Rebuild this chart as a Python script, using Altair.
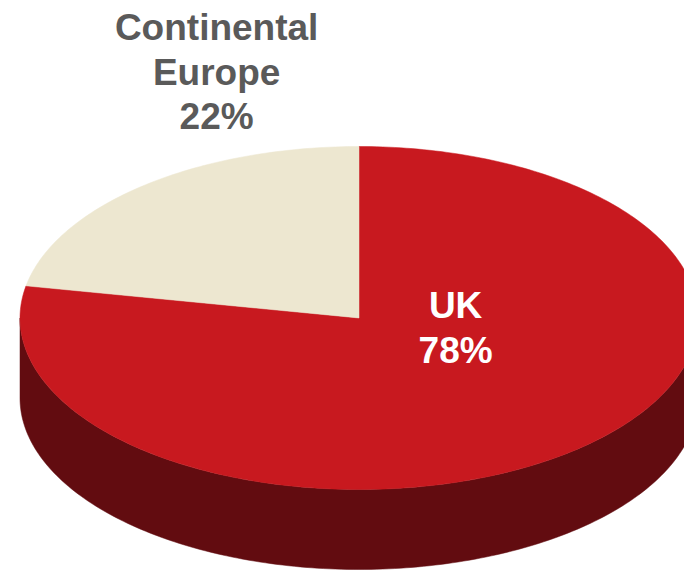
import math
import altair as alt
import pandas as pd

# ---- data ----
categories = ["UK", "Continental Europe"]
values = [78, 22]
label_lines = [["UK", "78%"], ["Continental", "Europe", "22%"]]

# ---- styling / geometry (not data) ----
colors = {"UK": "#C8191F", "Continental Europe": "#EDE7D0"}
side_color = "#620C10"
label_colors = {"UK": "#FFFFFF", "Continental Europe": "#5A5A5A"}
W, H = 684, 570
CX, CY, RX, RY = 359.0, 318.0, 339.0, 171.5   # pixel geometry of the top ellipse
DEPTH = 80.0 / RY                               # thickness in ellipse units

# label anchor points in ellipse units (x: sin, y: cos)
label_pos = {"UK": (0.285, 0.0), "Continental Europe": (-0.42, 1.62)}

total = sum(values)
# UK starts at 12 o'clock going clockwise, Continental Europe fills the rest
rows = []
start = 0.0
for cat, v in zip(categories, values):
    span = v / total * 360.0
    n = max(int(span), 8)
    pts = [(0.0, 0.0)]
    for i in range(n + 1):
        t = math.radians(start + span * i / n)
        pts.append((math.sin(t), math.cos(t)))
    pts.append((0.0, 0.0))
    for k, (x, y) in enumerate(pts):
        rows.append({"shape": cat, "x": x, "y": y, "o": k, "layer": 1})
    start += span

# visible side wall: front half of ellipse (theta 90..270) on top, back along bottom
side = []
for i in range(181):
    t = math.radians(90 + i)
    side.append((math.sin(t), math.cos(t)))
for i in range(181):
    t = math.radians(270 - i)
    side.append((math.sin(t), math.cos(t) - DEPTH))
side.append(side[0])
for k, (x, y) in enumerate(side):
    rows.append({"shape": "side", "x": x, "y": y, "o": k, "layer": 0})

df = pd.DataFrame(rows)

xdom = [(0 - CX) / RX, (W - CX) / RX]
ydom = [(CY - H) / RY, (CY - 0) / RY]
xs = alt.Scale(domain=xdom, nice=False, zero=False)
ys = alt.Scale(domain=ydom, nice=False, zero=False)

def poly(name, color):
    return (
        alt.Chart(df)
        .transform_filter(alt.datum.shape == name)
        .mark_line(fill=color, stroke=color, strokeWidth=0.5, filled=True, interpolate="linear")
        .encode(
            x=alt.X("x:Q", scale=xs, axis=None),
            y=alt.Y("y:Q", scale=ys, axis=None),
            order="o:Q",
        )
    )

layers = [poly("side", side_color)]
for cat in categories:
    layers.append(poly(cat, colors[cat]))

lab_df = pd.DataFrame(
    {
        "cat": categories,
        "text": ["\n".join(l) for l in label_lines],
        "x": [label_pos[c][0] for c in categories],
        "y": [label_pos[c][1] for c in categories],
    }
)
for cat in categories:
    layers.append(
        alt.Chart(lab_df)
        .transform_filter(alt.datum.cat == cat)
        .mark_text(
            font="Liberation Sans",
            fontWeight="bold",
            fontSize=37,
            lineBreak="\n",
            lineHeight=44.5,
            align="center",
            baseline="alphabetic",
            color=label_colors[cat],
        )
        .encode(
            x=alt.X("x:Q", scale=xs, axis=None),
            y=alt.Y("y:Q", scale=ys, axis=None),
            text="text:N",
        )
    )

chart = (
    alt.layer(*layers)
    .properties(width=W, height=H, padding=0, autosize=alt.AutoSizeParams(type="none"))
    .configure_view(stroke=None)
)

chart.save("out.html", embed_options={"renderer": "svg", "actions": False})
